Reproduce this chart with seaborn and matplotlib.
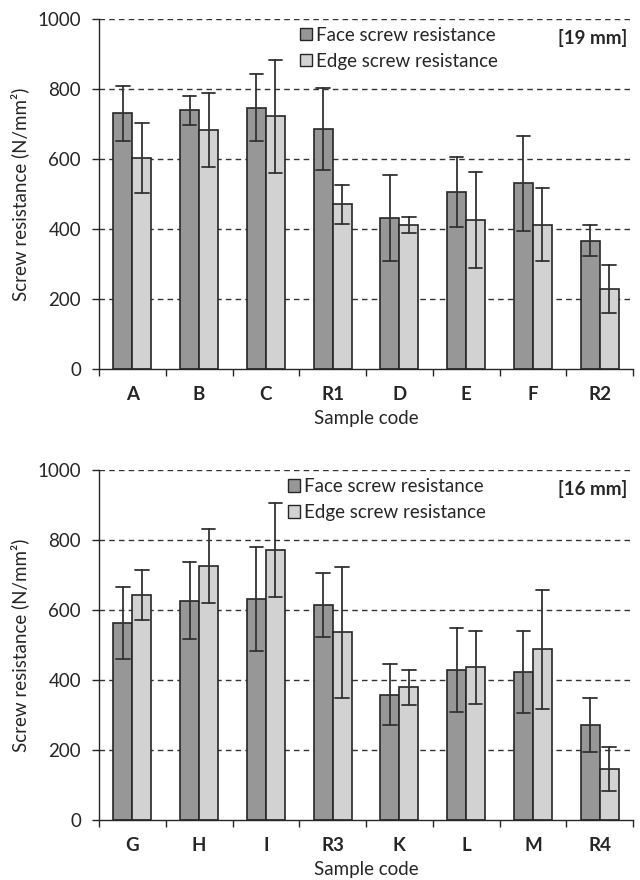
import matplotlib
matplotlib.use("Agg")
import matplotlib.pyplot as plt
from matplotlib.patches import Patch
import seaborn as sns
import pandas as pd

# ---- data ----
series_names = ["Face screw resistance", "Edge screw resistance"]

top_codes = ["A", "B", "C", "R1", "D", "E", "F", "R2"]
top_face = [730, 739, 747, 686, 432, 507, 530, 366]
top_face_err = [78, 41, 97, 118, 123, 100, 137, 44]
top_edge = [604, 683, 722, 471, 412, 426, 412, 228]
top_edge_err = [100, 105, 161, 56, 23, 138, 104, 68]

bot_codes = ["G", "H", "I", "R3", "K", "L", "M", "R4"]
bot_face = [565, 628, 632, 615, 359, 428, 423, 272]
bot_face_err = [103, 110, 149, 91, 88, 120, 118, 78]
bot_edge = [644, 727, 773, 537, 380, 437, 489, 147]
bot_edge_err = [71, 105, 135, 188, 50, 104, 170, 63]

y_ticks = [0, 200, 400, 600, 800, 1000]
panel_tags = ["[19 mm]", "[16 mm]"]

colors = ["#979797", "#d1d2d1"]
FS = 13.5


def long_frame(codes, face, face_err, edge, edge_err):
    rows = []
    for series, vals, errs in ((series_names[0], face, face_err),
                               (series_names[1], edge, edge_err)):
        for c, m, e in zip(codes, vals, errs):
            for v in (m - e, m, m + e):
                rows.append({"code": c, "series": series, "value": v})
    return pd.DataFrame(rows)


sns.set_theme(style="white")
plt.rcParams["font.family"] = ["Lato", "DejaVu Sans"]

fig = plt.figure(figsize=(6.4, 8.8), dpi=100)
ax_w = 534 / 640
ax_left = 99 / 640
axes = [
    fig.add_axes([ax_left, 1 - 369 / 880, ax_w, 350 / 880]),
    fig.add_axes([ax_left, 1 - 820 / 880, ax_w, 349.5 / 880]),
]

panels = [
    (top_codes, top_face, top_face_err, top_edge, top_edge_err),
    (bot_codes, bot_face, bot_face_err, bot_edge, bot_edge_err),
]
legend_pos = [((300 - 99) / 534, 0.978), ((288 - 99) / 534, 0.978)]

for ax, data, tag, lpos in zip(axes, panels, panel_tags, legend_pos):
    codes = data[0]
    df = long_frame(*data)
    # dashed grid behind bars
    for t in y_ticks[1:]:
        ax.axhline(t, color="#333333", lw=1.0, ls=(0, (4, 3)), zorder=0)
    sns.barplot(data=df, x="code", y="value", hue="series", order=codes,
                hue_order=series_names, palette=colors, estimator="mean",
                errorbar=lambda v: (v.min(), v.max()), width=0.57, gap=0,
                edgecolor="#262626", linewidth=1.2, capsize=0.4,
                err_kws={"color": "#333333", "linewidth": 1.3},
                ax=ax, zorder=2)
    ax.set_ylim(0, 1000)
    ax.set_xlim(-0.5, len(codes) - 0.5)
    ax.set_yticks(y_ticks)
    ax.set_yticklabels([str(t) for t in y_ticks], fontsize=FS, color="#262626")
    ax.set_xticks(range(len(codes)))
    ax.set_xticklabels(codes, fontsize=FS, fontweight="bold", color="#262626")
    ax.set_xticks([i - 0.5 for i in range(len(codes) + 1)], minor=True)
    ax.tick_params(axis="x", which="major", length=0, pad=12)
    ax.tick_params(axis="x", which="minor", length=5, width=1, color="#262626",
                   direction="out", bottom=True)
    ax.tick_params(axis="y", which="major", length=5, width=1, color="#262626",
                   direction="out", left=True, pad=8)
    ax.set_xlabel("Sample code", fontsize=FS, color="#262626", labelpad=5)
    ax.set_ylabel("Screw resistance (N/mm²)", fontsize=FS,
                  color="#262626", labelpad=6)
    for s in ("top", "right"):
        ax.spines[s].set_visible(False)
    for s in ("left", "bottom"):
        ax.spines[s].set_color("#262626")
        ax.spines[s].set_linewidth(1.0)
    leg = ax.get_legend()
    if leg is not None:
        leg.remove()
    handles = [Patch(facecolor=c, edgecolor="#262626", linewidth=1.0)
               for c in colors]
    ax.legend(handles, series_names, loc="upper left", bbox_to_anchor=lpos,
              frameon=False, fontsize=FS, handlelength=0.65,
              handleheight=0.65, handletextpad=0.2, borderpad=0,
              borderaxespad=0, labelspacing=0.47, labelcolor="#262626")
    ax.text(0.99, 0.946, tag, transform=ax.transAxes, ha="right", va="center",
            fontsize=FS, fontweight="bold", color="#262626")

fig.savefig("out.png", dpi=100)
